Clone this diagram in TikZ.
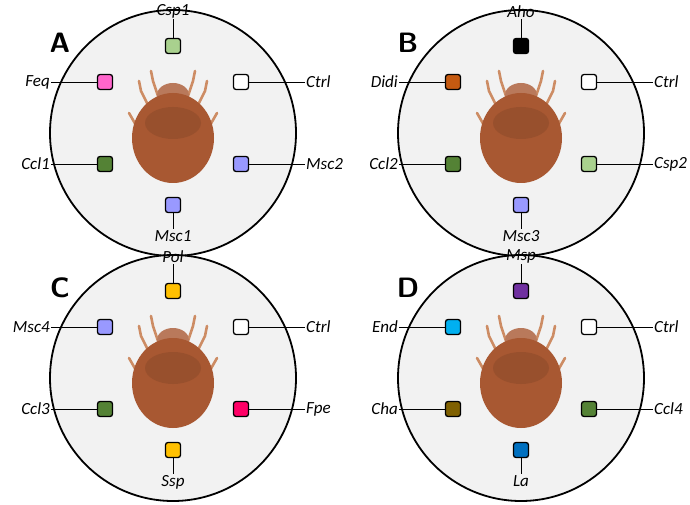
\documentclass[tikz,border=0pt]{standalone}
\usepackage{fontspec}
\setmainfont{Carlito}
\definecolor{cCsp}{RGB}{169,209,142}
\definecolor{cFeq}{RGB}{255,102,204}
\definecolor{cCcl}{RGB}{84,130,53}
\definecolor{cMsc}{RGB}{153,153,255}
\definecolor{cDidi}{RGB}{197,90,17}
\definecolor{cPol}{RGB}{255,192,0}
\definecolor{cFpe}{RGB}{255,0,102}
\definecolor{cMsp}{RGB}{112,48,160}
\definecolor{cEnd}{RGB}{0,176,240}
\definecolor{cCha}{RGB}{127,96,0}
\definecolor{cLa}{RGB}{0,112,192}
\definecolor{bgc}{RGB}{242,242,242}
\definecolor{mite}{RGB}{168,88,50}
\definecolor{mitel}{RGB}{205,140,100}
\tikzset{
 well/.style={draw=black,line width=1.3pt,rounded corners=2.5pt,minimum size=15pt,inner sep=0pt},
 lab/.style={font=\itshape\fontsize{17}{17}\selectfont,inner sep=1pt},
 arena/.style={draw=black,line width=1.8pt,fill=bgc},
 pletter/.style={font=\sffamily\bfseries\fontsize{28}{28}\selectfont},
 conn/.style={line width=0.9pt},
 leg/.style={mitel,line width=2.6pt,line cap=round}
}
\newcommand{\mypanel}[9]{%
\begin{scope}[shift={(#1,#2)}]
 \node[arena,circle,minimum size=246pt,inner sep=0pt] (c#3) at (0,0) {};
 \node[pletter] (L#3) at (-113,-90) {#3};
 % mite
 \draw[leg] (-14,-34) -- (-20,-52) -- (-22,-62);
 \draw[leg] (14,-34) -- (20,-52) -- (22,-62);
 \draw[leg] (-24,-26) -- (-32,-42) -- (-34,-52);
 \draw[leg] (24,-26) -- (32,-42) -- (34,-52);
 \draw[leg] (-36,-6) -- (-44,-20);
 \draw[leg] (36,-6) -- (44,-20);
 \fill[mite!80!white] (0,-38) ellipse (16pt and 12pt);
 \fill[mite] (0,5) ellipse (41pt and 45pt);
 \fill[mite!70!black,opacity=0.3] (0,-10) ellipse (28pt and 16pt);
 % wells
 \node[well,fill=#4] (t#3) at (0,-87) {};
 \node[well,fill=white] (r#3) at (68,-51) {};
 \node[well,fill=#5] (l#3) at (-68,-51) {};
 \node[well,fill=#6] (ll#3) at (-68,31) {};
 \node[well,fill=#7] (lr#3) at (68,31) {};
 \node[well,fill=#8] (b#3) at (0,72) {};
 \node[lab,anchor=south] (tl#3) at (0,-114) {#9};
 \node[lab,anchor=west] (rl#3) at (132,-51) {Ctrl};
 \draw[conn] (t#3) -- (tl#3);
 \draw[conn] (r#3) -- (rl#3);
\end{scope}}
\newcommand{\mylabels}[6]{%
\begin{scope}[shift={(#1,#2)}]
 \node[lab,anchor=east] (ml#6) at (-122,-51) {#3};
 \node[lab,anchor=east] (nl#6) at (-122,31) {#4};
 \node[lab,anchor=west] (ol#6) at (132,31) {#5};
 \draw[conn] (l#6) -- (ml#6);
 \draw[conn] (ll#6) -- (nl#6);
 \draw[conn] (lr#6) -- (ol#6);
\end{scope}}
\newcommand{\mybottom}[4]{%
\begin{scope}[shift={(#1,#2)}]
 \node[lab,anchor=north] (bl#4) at (0,96) {#3};
 \draw[conn] (b#4) -- (bl#4);
\end{scope}}
\begin{document}
\begin{tikzpicture}[x=1pt,y=-1pt]
\useasboundingbox (0,0) rectangle (690,505);
\mypanel{173}{133}{A}{cCsp}{cFeq}{cCcl}{cMsc}{cMsc}{Csp1}
\mylabels{173}{133}{Feq}{Ccl1}{Msc2}{A}
\mybottom{173}{133}{Msc1}{A}
\mypanel{521}{133}{B}{black}{cDidi}{cCcl}{cCsp}{cMsc}{Aho}
\mylabels{521}{133}{Didi}{Ccl2}{Csp2}{B}
\mybottom{521}{133}{Msc3}{B}
\mypanel{173}{378}{C}{cPol}{cMsc}{cCcl}{cFpe}{cPol}{Pol}
\mylabels{173}{378}{Msc4}{Ccl3}{Fpe}{C}
\mybottom{173}{378}{Ssp}{C}
\mypanel{521}{378}{D}{cMsp}{cEnd}{cCha}{cCcl}{cLa}{Msp}
\mylabels{521}{378}{End}{Cha}{Ccl4}{D}
\mybottom{521}{378}{La}{D}
\end{tikzpicture}
\end{document}
